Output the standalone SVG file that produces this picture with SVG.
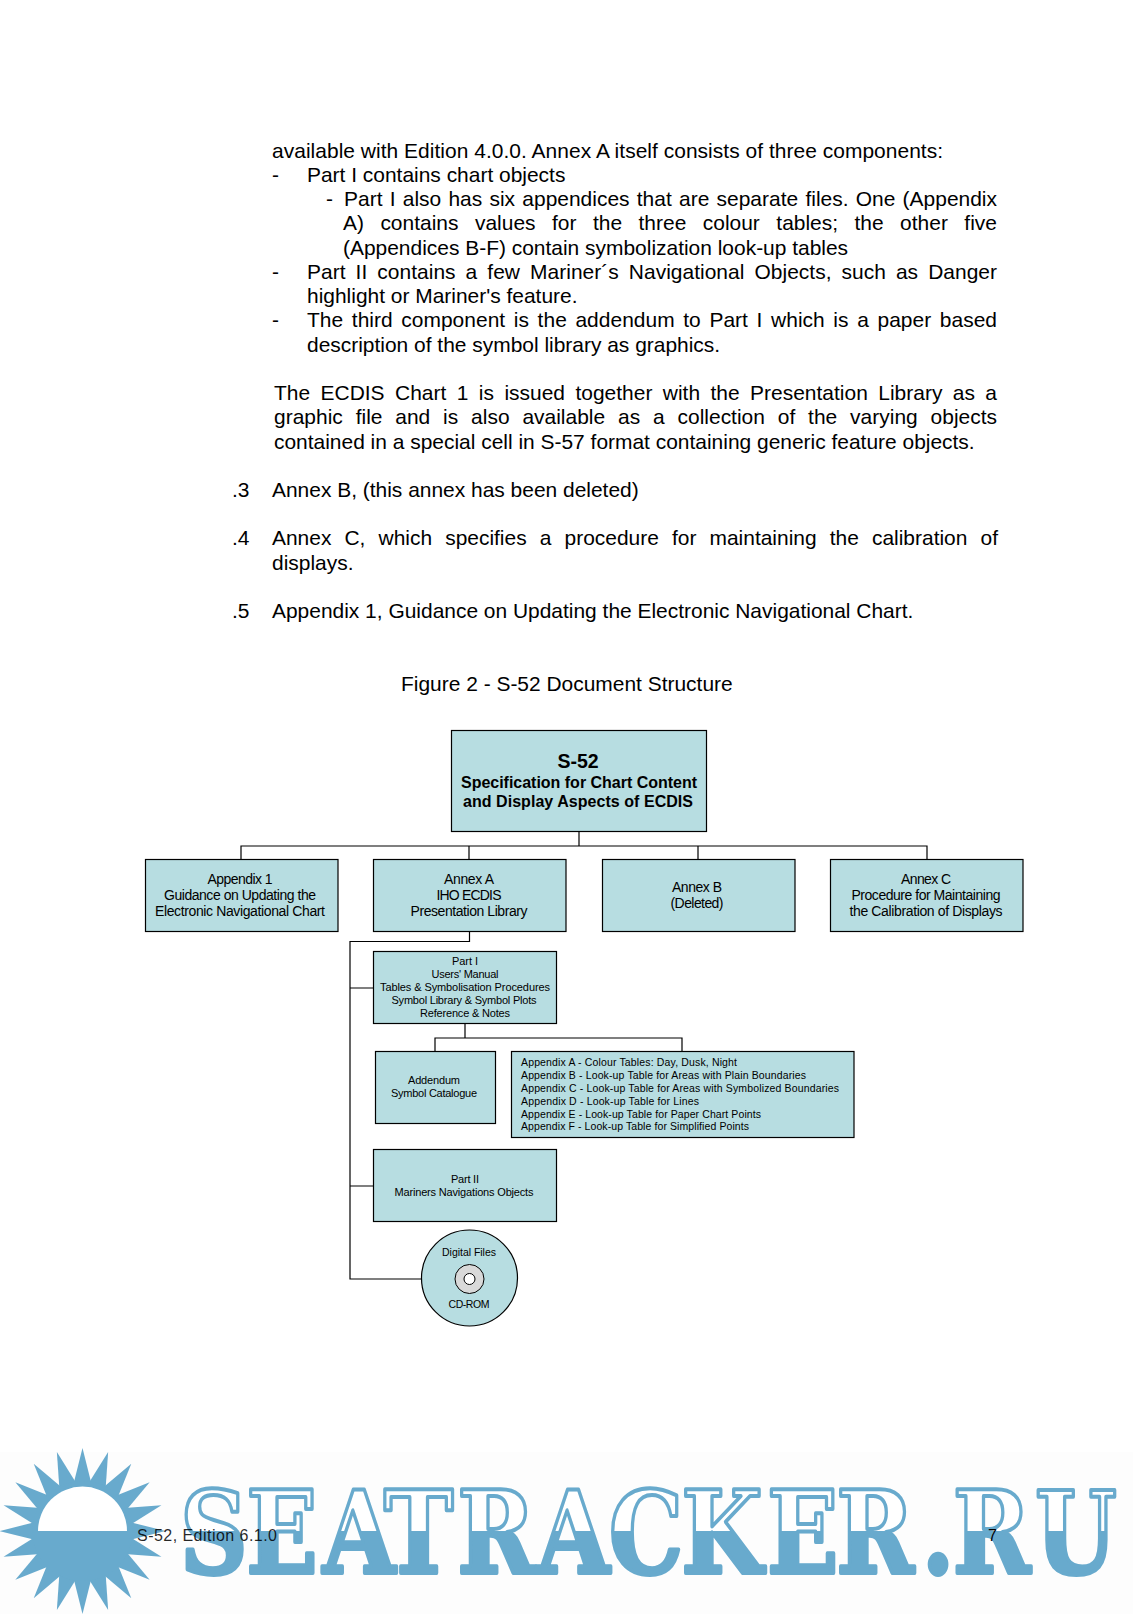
<svg xmlns="http://www.w3.org/2000/svg" xmlns:xlink="http://www.w3.org/1999/xlink" width="1133" height="1614" viewBox="0 0 1133 1614">
<style>
text{font-family:"Liberation Sans",Arial,sans-serif;fill:#000}
.b{font-size:20.95px}
.c{text-anchor:middle}
.s14{font-size:14px}
.s11{font-size:11px}
.s10{font-size:10.5px}
.box{fill:#b7dde1;stroke:#000;stroke-width:1.2}
.ln{fill:none;stroke:#000;stroke-width:1.2}
.h{font-weight:bold}
</style>
<defs>
<linearGradient id="wm" gradientUnits="userSpaceOnUse" x1="0" y1="1480" x2="0" y2="1580">
<stop offset="0.51" stop-color="#fff"/><stop offset="0.51" stop-color="#68aacd"/>
</linearGradient>
<polygon id="ray" points="0,-83 9,-47 -9,-47" fill="#68aacd"/>
</defs>
<rect width="1133" height="1614" fill="#fff"/>
<rect y="1452" width="1133" height="162" fill="#fdfdfd"/>

<g id="watermark">
<g id="sun" transform="translate(82.5 1531)">
<use xlink:href="#ray" transform="rotate(0)"/><use xlink:href="#ray" transform="rotate(18)"/><use xlink:href="#ray" transform="rotate(36)"/><use xlink:href="#ray" transform="rotate(54)"/><use xlink:href="#ray" transform="rotate(72)"/><use xlink:href="#ray" transform="rotate(90)"/><use xlink:href="#ray" transform="rotate(108)"/><use xlink:href="#ray" transform="rotate(126)"/><use xlink:href="#ray" transform="rotate(144)"/><use xlink:href="#ray" transform="rotate(162)"/><use xlink:href="#ray" transform="rotate(180)"/><use xlink:href="#ray" transform="rotate(198)"/><use xlink:href="#ray" transform="rotate(216)"/><use xlink:href="#ray" transform="rotate(234)"/><use xlink:href="#ray" transform="rotate(252)"/><use xlink:href="#ray" transform="rotate(270)"/><use xlink:href="#ray" transform="rotate(288)"/><use xlink:href="#ray" transform="rotate(306)"/><use xlink:href="#ray" transform="rotate(324)"/><use xlink:href="#ray" transform="rotate(342)"/>
<circle r="50" fill="#68aacd"/>
<path d="M-44.5 0A44.5 44.5 0 0 1 44.5 0Z" fill="#fff"/>
</g>
<text transform="scale(.815 1)" x="221 302 396 471 561 659 747 836 941 1026 1131 1169 1270" y="1573" style="font-family:'DejaVu Serif',serif;font-weight:bold;font-size:115px;fill:url(#wm);stroke:#68aacd;stroke-width:4px;stroke-linejoin:round">SEATRACKER.RU</text>
</g>

<g id="body">
<text class="b" x="272" y="158" textLength="671">available with Edition 4.0.0. Annex A itself consists of three components:</text>
<text class="b" x="272" y="182">-</text>
<text class="b" x="307" y="182">Part I contains chart objects</text>
<text class="b" x="326" y="206">-</text>
<text class="b" x="344" y="206" word-spacing="1.4" textLength="653">Part I also has six appendices that are separate files. One (Appendix</text>
<text class="b" x="343" y="230" word-spacing="10.6" textLength="654">A) contains values for the three colour tables; the other five</text>
<text class="b" x="343" y="254.5">(Appendices B-F) contain symbolization look-up tables</text>
<text class="b" x="272" y="278.5">-</text>
<text class="b" x="307" y="278.5" word-spacing="4.2" textLength="690">Part II contains a few Mariner´s Navigational Objects, such as Danger</text>
<text class="b" x="307" y="303">highlight or Mariner's feature.</text>
<text class="b" x="272" y="327">-</text>
<text class="b" x="307" y="327" word-spacing="2.8" textLength="690">The third component is the addendum to Part I which is a paper based</text>
<text class="b" x="307" y="352">description of the symbol library as graphics.</text>
<text class="b" x="274" y="399.5" word-spacing="4.6" textLength="723">The ECDIS Chart 1 is issued together with the Presentation Library as a</text>
<text class="b" x="274" y="424" word-spacing="7" textLength="723">graphic file and is also available as a collection of the varying objects</text>
<text class="b" x="274" y="449">contained in a special cell in S-57 format containing generic feature objects.</text>
<text class="b" x="232" y="497">.3</text>
<text class="b" x="272" y="497">Annex B, (this annex has been deleted)</text>
<text class="b" x="232" y="544.8">.4</text>
<text class="b" x="272" y="544.8" word-spacing="7.3" textLength="726">Annex C, which specifies a procedure for maintaining the calibration of</text>
<text class="b" x="272" y="570">displays.</text>
<text class="b" x="232" y="618">.5</text>
<text class="b" x="272" y="618">Appendix 1, Guidance on Updating the Electronic Navigational Chart.</text>
<text class="b" x="401" y="691">Figure 2 - S-52 Document Structure</text>
</g>

<g id="connectors">
<path class="ln" d="M579 831V846M241 859V846H927V859M469 846V859M698 846V859"/>
<path class="ln" d="M469.5 931V941.5H350V1279H421M350 988H373M350 1186H373"/>
<path class="ln" d="M465 1023V1038M435 1051V1038H682V1051"/>
</g>

<g id="n-s52"><rect class="box" x="451.5" y="730.5" width="255" height="101"/>
<text class="c h" x="578" y="768" font-size="19.5">S-52</text>
<text class="c h" x="579" y="788" font-size="16" textLength="236">Specification for Chart Content</text>
<text class="c h" x="578" y="807" font-size="16" textLength="230">and Display Aspects of ECDIS</text></g>

<g id="n-appendix1"><rect class="box" x="145.5" y="859.5" width="192.5" height="72"/>
<text class="c s14" x="240" y="884" textLength="65">Appendix 1</text>
<text class="c s14" x="240" y="900" textLength="152">Guidance on Updating the</text>
<text class="c s14" x="240" y="916" textLength="170">Electronic Navigational  Chart</text></g>

<g id="n-annexa"><rect class="box" x="373.5" y="859.5" width="192.5" height="72"/>
<text class="c s14" x="469" y="884" textLength="50">Annex A</text>
<text class="c s14" x="469" y="900" textLength="65">IHO ECDIS</text>
<text class="c s14" x="469" y="916" textLength="117">Presentation Library</text></g>

<g id="n-annexb"><rect class="box" x="602.5" y="859.5" width="192.5" height="72"/>
<text class="c s14" x="697" y="892" textLength="50">Annex B</text>
<text class="c s14" x="697" y="908" textLength="53">(Deleted)</text></g>

<g id="n-annexc"><rect class="box" x="830.5" y="859.5" width="192.5" height="72"/>
<text class="c s14" x="926" y="884" textLength="50">Annex C</text>
<text class="c s14" x="926" y="900" textLength="149">Procedure for Maintaining</text>
<text class="c s14" x="926" y="916" textLength="153">the Calibration of Displays</text></g>

<g id="n-part1"><rect class="box" x="373.5" y="951.5" width="183" height="72"/>
<text class="c s11" x="465" y="965" textLength="26">Part I</text>
<text class="c s11" x="465" y="978" textLength="67">Users' Manual</text>
<text class="c s11" x="465" y="991" textLength="170">Tables &amp; Symbolisation Procedures</text>
<text class="c s11" x="464" y="1004" textLength="145">Symbol Library &amp; Symbol Plots</text>
<text class="c s11" x="465" y="1017" textLength="90">Reference &amp; Notes</text></g>

<g id="n-addendum"><rect class="box" x="375.5" y="1051.5" width="120" height="72"/>
<text class="c s11" x="434" y="1084" textLength="52">Addendum</text>
<text class="c s11" x="434" y="1097" textLength="86">Symbol Catalogue</text></g>

<g id="n-appendices"><rect class="box" x="511.5" y="1051.5" width="342.5" height="86"/>
<text class="s10" x="521" y="1066" textLength="216">Appendix A - Colour Tables: Day, Dusk, Night</text>
<text class="s10" x="521" y="1079" textLength="285">Appendix B - Look-up Table for Areas with Plain Boundaries</text>
<text class="s10" x="521" y="1092" textLength="318">Appendix C - Look-up Table for Areas with Symbolized Boundaries</text>
<text class="s10" x="521" y="1105" textLength="178">Appendix D - Look-up Table for Lines</text>
<text class="s10" x="521" y="1118" textLength="240">Appendix E - Look-up Table for Paper Chart Points</text>
<text class="s10" x="521" y="1130" textLength="228">Appendix F - Look-up Table for Simplified Points</text></g>

<g id="n-part2"><rect class="box" x="373.5" y="1149.5" width="183" height="72"/>
<text class="c s11" x="465" y="1183" textLength="28">Part II</text>
<text class="c s11" x="464" y="1196" textLength="139">Mariners Navigations Objects</text></g>

<g id="n-cdrom"><circle cx="469.5" cy="1278" r="48" fill="#b7dde1" stroke="#000" stroke-width="1.2"/>
<circle cx="469.5" cy="1279" r="14.5" fill="#d9d9d9" stroke="#000" stroke-width="1"/>
<circle cx="469.5" cy="1279" r="5.5" fill="#fff" stroke="#000" stroke-width="1"/>
<text class="c" x="469" y="1256" font-size="10.5" textLength="54">Digital Files</text>
<text class="c" x="469" y="1308" font-size="10.5" textLength="41">CD-ROM</text></g>

<g id="footer">
<text x="137" y="1541" font-size="16" textLength="140" fill-opacity=".85">S-52, Edition 6.1.0</text>
<text x="988" y="1541" font-size="16">7</text>
</g>
</svg>
